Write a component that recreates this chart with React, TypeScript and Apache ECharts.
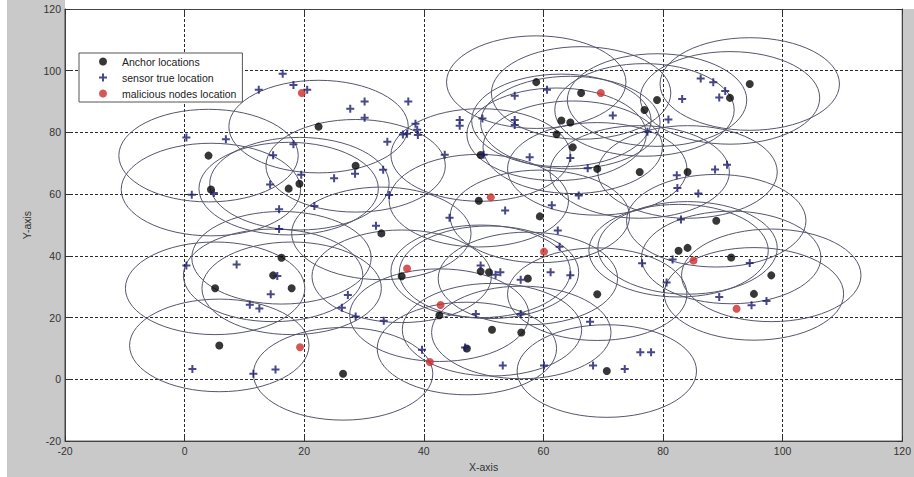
import React, { useEffect, useRef } from "react";
import * as echarts from "echarts";

const xTicks = { min: -20, max: 120, interval: 20 };
const yTicks = { min: -20, max: 120, interval: 20 };
const RANGE_RADIUS = 15;

const anchorLocations: number[][] = [
  [4.0, 72.5], [4.4, 61.5], [17.4, 61.8], [19.2, 63.4], [22.4, 81.9], [28.6, 69.2], [32.9, 47.3],
  [5.8, 11.0], [16.2, 39.4], [14.8, 33.7], [5.1, 29.5], [17.9, 29.5], [26.5, 1.8], [36.3, 33.4],
  [42.6, 20.8], [47.2, 10.0], [49.5, 35.0], [50.9, 34.7], [57.4, 32.7], [51.4, 16.1], [56.3, 15.2],
  [69.0, 27.6], [70.6, 2.7], [82.6, 41.7], [84.1, 42.6], [91.4, 39.5], [98.1, 33.7], [95.2, 27.7],
  [88.9, 51.4], [58.8, 96.3], [66.3, 92.8], [79.0, 90.5], [76.9, 87.3], [63.0, 83.9], [64.5, 83.2],
  [62.2, 79.4], [64.9, 75.2], [69.0, 68.2], [76.1, 67.2], [84.1, 67.2], [59.4, 52.8], [49.5, 72.7],
  [49.2, 57.9], [94.5, 95.7], [91.2, 91.2],
];

const sensorLocations: number[][] = [
  [0.3, 78.4], [6.9, 77.8], [1.2, 59.8], [4.9, 60.4], [12.4, 93.8], [16.4, 99.0], [18.2, 95.4],
  [20.5, 93.8], [27.7, 87.7], [30.1, 90.0], [30.1, 84.8], [37.4, 90.0], [38.6, 82.8], [36.5, 79.3],
  [37.2, 79.6], [38.9, 80.9], [39.0, 79.2], [33.9, 77.0], [18.2, 76.2], [14.8, 72.6], [19.5, 66.3],
  [25.0, 65.2], [28.5, 66.6], [33.2, 67.9], [14.3, 63.1], [21.7, 56.2], [15.8, 55.1], [34.2, 59.7],
  [43.5, 72.8], [44.3, 52.4], [32.0, 49.8], [15.8, 48.7],
  [46.0, 84.0], [46.0, 82.2], [49.8, 84.5], [50.0, 72.8], [55.2, 91.9], [60.6, 93.8], [55.2, 84.0],
  [55.2, 82.4], [71.6, 85.5], [77.4, 80.2], [80.9, 84.2], [83.2, 90.8], [86.3, 97.5], [88.4, 96.3],
  [90.4, 93.4], [89.4, 91.3], [57.7, 72.0], [64.5, 71.7], [67.4, 68.4], [82.3, 66.1], [82.4, 62.0],
  [85.9, 60.2], [88.7, 68.0], [90.7, 69.5], [65.9, 59.6], [61.4, 56.4], [53.6, 54.7], [83.0, 51.8],
  [62.4, 48.2],
  [0.3, 36.9], [8.7, 37.2], [15.5, 33.5], [14.4, 27.6], [10.9, 24.2], [12.5, 23.0], [1.3, 3.4],
  [11.5, 1.8], [15.2, 3.2], [27.3, 27.3], [26.3, 23.2], [28.6, 20.4], [33.3, 19.0], [39.7, 9.6],
  [49.5, 36.9], [48.7, 21.2], [46.9, 10.3], [62.7, 43.0], [52.0, 33.9], [52.8, 34.7], [56.2, 32.3],
  [61.2, 34.7], [64.5, 33.7], [56.2, 21.2], [67.8, 18.7], [76.5, 37.6], [80.6, 31.4], [81.6, 38.8],
  [76.2, 8.8], [78.0, 8.8], [53.2, 4.5], [60.1, 4.5], [68.3, 4.5], [73.6, 3.4], [94.5, 37.7],
  [89.4, 26.7], [94.8, 24.0], [97.3, 25.4],
];

const maliciousLocations: number[][] = [
  [19.6, 92.8], [51.2, 59.0], [69.6, 92.8], [37.2, 35.9], [60.1, 41.4], [85.1, 38.5],
  [42.8, 24.1], [92.3, 22.9], [19.3, 10.4], [41.0, 5.6],
];

const seriesNames = ["Anchor locations", "sensor true location", "malicious nodes location"];
const axisNames = { x: "X-axis", y: "Y-axis" };

const FONT = "'Liberation Sans', Arial, Helvetica, sans-serif";
const PLUS = "path://M3,0H5V3H8V5H5V8H3V5H0V3H3Z";

export default function App() {
  const ref = useRef<HTMLDivElement>(null);
  useEffect(() => {
    if (!ref.current) return;
    const chart = echarts.init(ref.current, null, { renderer: "svg" });
    const tickStyle = { inside: true, length: 5, lineStyle: { color: "#333", width: 1 } };
    const splitStyle = { show: true, lineStyle: { color: "#2a2a2a", type: [3, 2], width: 1 } };
    const axisLine = { show: true, onZero: false, lineStyle: { color: "#444", width: 1 } };
    const labelStyle = { color: "#333", fontSize: 10.5, fontFamily: FONT };
    chart.setOption({
      animation: false,
      backgroundColor: "#c9c9c9",
      textStyle: { fontFamily: FONT },
      graphic: [
        { type: "rect", shape: { x: 0, y: 0, width: 7, height: 477 }, style: { fill: "#fff" }, silent: true },
        { type: "rect", shape: { x: 65, y: 0, width: 849, height: 9 }, style: { fill: "#fff" }, silent: true },
      ],
      grid: {
        left: 65, top: 9, width: 848, height: 439,
        show: true, backgroundColor: "#fff", borderColor: "#444", borderWidth: 1,
      },
      legend: {
        data: seriesNames,
        orient: "vertical",
        left: 79, top: 53,
        padding: [3, 6, 3, 20],
        itemWidth: 28, itemHeight: 8, itemGap: 5,
        backgroundColor: "#fff", borderColor: "#555", borderWidth: 1,
        textStyle: { color: "#222", fontSize: 10.5, fontFamily: FONT },
      },
      xAxis: [
        {
          type: "value", ...xTicks, position: "bottom",
          name: axisNames.x, nameLocation: "middle", nameGap: 17,
          nameTextStyle: { color: "#333", fontSize: 10.5, fontFamily: FONT },
          axisLine, axisTick: tickStyle, splitLine: splitStyle,
          axisLabel: { ...labelStyle, margin: 4 },
        },
        {
          type: "value", ...xTicks, position: "top",
          axisLine, axisTick: tickStyle, splitLine: { show: false }, axisLabel: { show: false },
        },
      ],
      yAxis: [
        {
          type: "value", ...yTicks, position: "left",
          name: axisNames.y, nameLocation: "middle", nameGap: 30,
          nameTextStyle: { color: "#333", fontSize: 10.5, fontFamily: FONT },
          axisLine, axisTick: tickStyle, splitLine: splitStyle,
          axisLabel: { ...labelStyle, margin: 4 },
        },
        {
          type: "value", ...yTicks, position: "right",
          axisLine, axisTick: tickStyle, splitLine: { show: false }, axisLabel: { show: false },
        },
      ],
      series: [
        {
          type: "custom",
          name: "range",
          data: anchorLocations,
          clip: false,
          silent: true,
          z: 1,
          renderItem: (params: any, api: any) => {
            const c = api.coord([api.value(0), api.value(1)]);
            const s = api.size([RANGE_RADIUS, RANGE_RADIUS]);
            return {
              type: "ellipse",
              shape: { cx: c[0], cy: c[1], rx: s[0], ry: s[1] },
              style: { fill: "none", stroke: "#56566e", lineWidth: 1 },
            };
          },
        },
        {
          type: "scatter", name: seriesNames[0], data: anchorLocations,
          symbol: "circle", symbolSize: 8, z: 3,
          itemStyle: { color: "#050505" },
        },
        {
          type: "scatter", name: seriesNames[1], data: sensorLocations,
          symbol: PLUS, symbolSize: 8, z: 4,
          itemStyle: { color: "#1a1a6c" },
        },
        {
          type: "scatter", name: seriesNames[2], data: maliciousLocations,
          symbol: "circle", symbolSize: 8, z: 5,
          itemStyle: { color: "#cc2a2a" },
        },
      ],
    });
    return () => chart.dispose();
  }, []);
  return (
    <div
      ref={ref}
      style={{ position: "fixed", left: 0, top: 0, width: 914, height: 477 }}
    />
  );
}
